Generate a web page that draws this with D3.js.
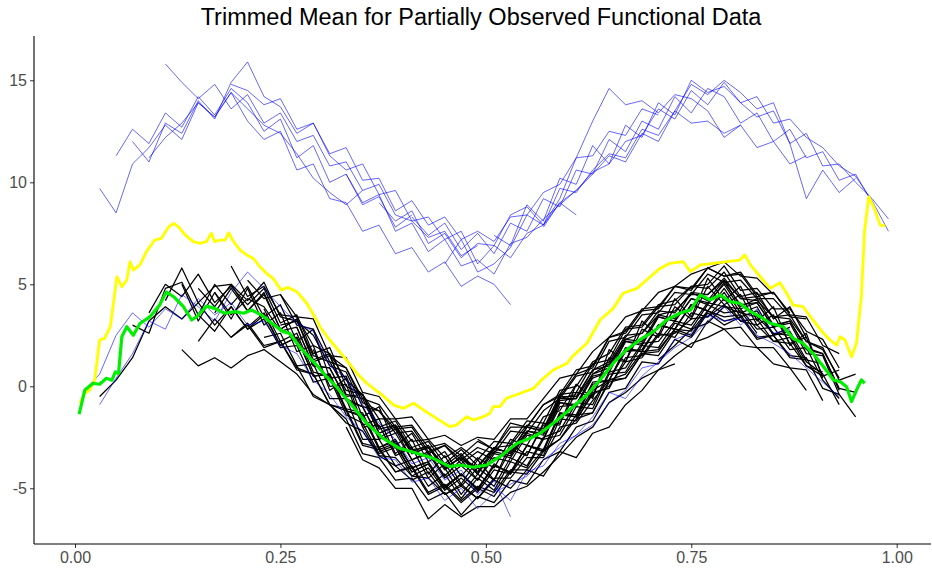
<!DOCTYPE html>
<html>
<head>
<meta charset="utf-8">
<script src="https://cdn.jsdelivr.net/npm/d3@7"></script>
<style>
  body { margin: 0; background: #fff; }
  svg { display: block; font-family: "Liberation Sans", Arial, sans-serif; }
</style>
</head>
<body>
<main></main>
<script>
// common observation grid for the sample curves
const grid = [0.01,0.03,0.05,0.07,0.09,0.11,0.13,0.15,0.17,0.19,0.21,0.23,0.25,0.27,0.29,0.31,0.33,0.35,0.37,0.39,
  0.41,0.43,0.45,0.47,0.49,0.51,0.53,0.55,0.57,0.59,0.61,0.63,0.65,0.67,0.69,0.71,0.73,0.75,0.77,0.79,
  0.81,0.83,0.85,0.87,0.89,0.91,0.93,0.95,0.97,0.99];

// black curves: first grid index + observed values
const blackStart = [1,3,6,4,7,8,9,10,11,12,13,14,15,8,17,19,5,22,24,30,35,10,16,12,6,7,9,11,13,18,7,27];
const blackY = [
  [-0.5,0.3,1.4,3.2,3.9,3.3,4.1,3.0,3.9,2.8,3.5,2.0,2.4,0.5,0.6,-1.1,-1.3,-3.0,-2.6,-4.0,-3.7],
  [3.0,2.6,4.8,5.1,3.5,5.0,4.0,4.9,3.4,4.0,2.2,2.8,0.4,0.5,-1.5,-1.0,-2.9,-2.3,-3.7,-3.2,-4.4,-3.5,-4.0,-2.6,-2.9,-1.5,-1.2,0.1],
  [1.8,1.0,1.4,0.9,1.5,1.8,1.2,0.6,-0.4,-0.9,-1.8,-2.2,-3.4,-3.9,-4.6,-4.2,-5.3,-4.8,-5.5,-4.6,-5.0,-4.1,-4.4,-3.2,-3.5,-2.3,-2.0,-0.9,-0.2,0.8,1.1],
  [3.6,5.0,4.4,5.5,4.1,4.9,4.0,4.8,3.1,3.5,1.6,1.9,0.0,-0.4,-2.0,-1.7,-3.0,-2.7,-3.8,-3.1,-3.9,-3.0,-2.9,-1.9,-2.1,-0.4,-0.3,1.1,1.3,2.8,2.9,3.9,4.0,4.9,4.8,5.6,4.4,4.6,3.3,3.9,2.4],
  [3.5,2.7,3.9,2.8,3.3,1.9,2.0,0.2,0.4,-1.4,-1.8,-3.3,-3.0,-4.4,-4.0,-5.1,-4.5,-5.2,-4.1,-4.3,-3.2,-3.4,-1.6,-1.7,-0.3,-0.1,1.4,1.5,2.6,2.4,3.6,3.4,4.3,3.2,3.3,2.2,2.4,1.0,0.7],
  [4.6,3.5,4.3,3.9,2.7,2.9,1.0,0.9,-0.6,-1.0,-2.5,-2.1,-3.6,-3.2,-4.4,-3.6,-4.6,-3.3,-3.5,-2.3,-2.6,-0.8,-0.9,0.6,0.9,2.3,2.2,3.5,3.3,4.6,4.2,5.2,3.9,4.3,3.0,3.2,1.9,1.6,-0.1,-0.3],
  [2.4,3.0,1.9,2.2,0.8,0.6,-0.9,-1.2,-2.9,-3.1,-4.2,-4.0,-5.3,-4.9,-5.7,-5.0,-5.4,-4.2,-4.3,-3.2,-2.6,-1.6,-1.3,0.2,0.4,1.6,1.5,2.7,2.4,3.6,3.0,3.4],
  [5.2,4.3,4.5,3.0,2.8,1.2,0.9,-0.6,-0.9,-2.0,-1.9,-3.0,-2.8,-3.4,-2.7,-3.1,-2.0,-2.0,-0.9,-0.5,0.6,0.9,2.4,2.6,3.7,3.8,4.9,4.7,5.8,5.4,5.5,4.4,4.6,3.5,3.4,2.0,1.6],
  [3.8,2.2,2.6,0.7,0.5,-1.2,-1.5,-3.0,-2.7,-4.0,-3.7,-4.9,-4.3,-5.0,-3.9,-4.2,-2.9,-3.1,-1.3,-1.4,0.2,0.3,1.9,1.7,3.0,2.8,4.0,3.7,4.8,3.6,3.9,2.5,2.9],
  [3.0,3.2,1.5,1.2,-0.2,-0.4,-2.1,-1.9,-3.1,-3.0,-3.9,-3.3,-4.2,-3.1,-3.2,-2.0,-2.2,-0.5,-0.5,0.8,1.2,2.5,2.6,3.7,3.6,4.6,4.5,5.3,4.3,4.4,3.4,3.5,2.2,1.9,0.3,0.6],
  [1.0,-0.5,-0.9,-1.6,-3.3,-3.5,-4.6,-4.5,-5.6,-5.2,-6.3,-5.4,-5.7,-4.6,-4.8,-3.6,-3.2,-2.0,-1.7,-0.3,-0.1,1.2,1.1,2.3,1.9,3.2,2.8,2.9,1.9,1.9,0.9,0.8,-0.7],
  [1.8,0.0,0.1,-2.0,-1.9,-3.4,-3.0,-4.5,-3.8,-4.9,-4.0,-4.6,-3.1,-3.4,-1.9,-1.8,-0.3,-0.5,1.4,1.2,2.8,2.4,3.9,3.3,4.9,4.0,4.5,3.0,3.5,2.1,2.4,0.5,0.8],
  [1.5,0.9,-0.8,-1.2,-2.1,-2.0,-3.2,-2.9,-3.6,-3.0,-3.3,-2.2,-2.3,-1.2,-0.6,0.5,0.7,2.2,2.4,3.5,3.6,4.6,4.5,5.5,5.1,5.2,4.3,4.3,3.4,3.3],
  [3.6,4.8,3.7,4.5,2.8,3.3,1.2,1.5,-0.4,-0.6,-2.3,-2.0,-3.3,-3.0,-4.1,-3.4,-4.3,-3.2,-3.4,-2.2,-2.4,-0.7,-0.6,0.8,1.0,2.4],
  [-2.0,-3.4,-3.5,-4.4,-4.5,-5.3,-4.9,-5.5,-4.5,-4.5,-3.5,-3.5,-2.0,-1.8,-0.7,0.3,0.6,1.7,1.8,2.8,2.7,3.7,3.4,3.5,2.4,2.5,1.5,1.4,-0.1,-0.4,-1.5],
  [-2.0,-3.3,-3.0,-4.0,-3.5,-4.3,-3.0,-3.3,-2.2,-2.3,-0.6,-0.6,0.6,1.1,2.3,2.6,3.5,3.7,4.5,4.5,5.2,4.3,4.2,3.4,3.3,2.2,1.8,0.4],
  [4.2,5.8,4.1,4.9,5.0,4.2,5.1,3.4,3.2,2.5,1.0,0.7,-1.0,-1.2,-2.3,-2.2,-3.3,-2.9,-3.8,-3.2,-3.6],
  [-4.0,-5.3,-4.3,-4.9,-3.5,-3.9,-2.5,-2.2,-0.8,-0.9,0.7,0.9,2.1,2.2,3.2,3.0,4.1,3.9,3.8,2.8,2.9,1.8,1.9,0.3,-0.6],
  [-2.6,-3.1,-1.8,-2.0,-0.9,-0.4,0.8,1.0,2.4,2.7,3.8,3.9,4.9,4.8,5.8,5.4,5.6,4.5,4.6,3.6],
  [-1.6,-0.4,0.0,1.2,1.4,2.5,2.6,3.3,3.4,4.0,3.2,3.0,2.2,2.1,1.0,0.5],
  [1.3,2.0,2.8,3.1,3.9,3.6,3.4,2.6,2.5,1.2,0.6,-0.9],
  [2.9,3.6,2.0,2.4,0.5,0.6,-1.2,-1.4,-3.1,-2.8,-4.2,-3.8,-5.0,-4.3,-5.1,-3.9,-4.2,-2.9,-3.2,-1.4,-1.5,-0.2,0.3,1.8,1.7,3.0,2.8,4.0,3.7],
  [-2.0,-3.6,-4.0,-5.0,-5.0,-6.5,-5.8,-6.4,-5.9,-5.9,-5.2,-4.9,-4.2,-3.4,-2.5,-2.0,-0.8,-0.3,0.4,0.8,1.5,2.1,2.4,2.8,2.0,1.9,1.1,0.9,-0.2],
  [4.5,3.4,3.3,1.5,1.4,-0.3,-0.5,-1.6,-1.5,-2.6,-2.4,-2.9,-2.5,-2.6,-1.6,-1.6,-0.6,0.4,0.6,1.7,2.4,3.4,3.7,4.6,4.9,5.5,5.8,6.1,5.4,5.3,4.5],
  [5.0,3.2,4.6,3.3,4.8,3.0,3.6,1.7,2.0,-0.2,0.4,-1.9,-1.6,-3.3,-2.6,-4.3,-3.4,-4.8,-3.6,-4.6,-2.8,-3.4,-1.8,-1.9,0.1,-0.6,1.8,1.2,3.2,2.5,4.3,3.4,5.3,4.2,4.9,3.2,3.9,2.0,2.6,0.4],
  [2.2,3.3,2.4,3.1,2.0,2.2,0.9,0.6,-0.9,-1.1,-2.8,-3.0,-4.2,-3.9,-5.2,-4.8,-5.6,-4.9,-5.2,-4.1,-4.1,-3.1,-2.6,-1.4,-1.3,0.3,0.4,1.6,1.7,2.8,2.5,3.7,3.2,3.4,2.3,2.5,1.4,1.3],
  [5.9,4.4,4.9,3.5,3.4,2.0,1.6,0.3,-0.4,-1.6,-1.6,-2.7,-2.6,-3.5,-3.0,-3.6,-2.7,-2.8,-1.7,-1.8,-0.2,0.0,1.2,1.6,2.9,3.0,4.0,4.2,4.9,5.0,5.9,4.7,4.8,3.8,3.8,2.7,2.3,0.9],
  [2.4,2.6,1.0,1.1,-0.6,-0.6,-2.6,-2.6,-3.9,-3.6,-4.9,-4.3,-5.5,-4.5,-5.1,-3.7,-4.0,-2.6,-2.4,-1.0,-1.1,0.6,0.7,2.0,1.9,3.1,2.8,4.0,3.6,3.7,2.6],
  [2.9,1.0,0.9,-0.7,-1.0,-2.6,-2.3,-3.6,-3.3,-4.5,-3.9,-4.6,-3.5,-3.7,-2.4,-2.6,-0.8,-1.0,0.5,0.7,2.2,2.1,3.4,3.2,4.3,4.1,5.0,3.8,4.1,2.9,3.1,1.6,1.5,-0.4],
  [-3.2,-2.9,-4.2,-3.8,-5.0,-4.3,-5.1,-3.8,-4.3,-2.9,-3.2,-1.3,-1.5,0.1,0.3,1.7,1.8,3.0,2.8,4.0,3.7,4.6,3.4,3.7,2.5,2.7,1.3,1.1],
  [4.8,3.9,5.0,3.7,4.6,2.8,3.3,1.3,1.6,-0.5,-0.4,-2.3,-1.9,-3.2,-2.9,-4.0,-3.5,-4.0,-3.0,-3.3,-2.0,-2.2,-0.6,-0.4],
  [-2.4,-2.6,-1.0,-0.9,0.4,0.7,2.2,2.0,3.4,3.2,4.3,4.0,5.1,4.0,4.1,2.9,3.2,1.8,1.6,-0.2]
];

// blue curves inside the main band
const blueLowStart = [0,1,25];
const blueLowY = [
  [-0.3,0.6,2.5,3.6,2.9,3.8,3.3,4.3,3.5,4.1,3.0,3.2,2.0,1.6,0.3,-0.4,-1.5,-2.2,-3.5,-3.6,-4.7,-4.5,-5.6,-5.0,-6.0,-5.2,-4.8,-4.4,-3.6,-3.0,-2.4,-1.9,-0.8,-0.2,0.9,1.1,2.3,2.6,3.5,3.2,3.3,2.5,2.1,1.6,0.9,0.2,-0.5],
  [-0.9,0.4,1.6,3.2,2.8,4.5,3.9,3.2,4.6,5.6,4.8,3.9,3.1,2.7,1.0,0.4,-0.9,-1.8,-2.6,-3.8,-3.5,-4.6,-4.1,-5.3,-4.6,-6.4],
  [-4.9,-5.6,-4.2,-3.9,-2.8,-2.4,-1.5,-0.3,-0.6,0.5,1.2,1.9,2.4,3.2,3.9,3.0,3.8,2.6,2.8]
];

// shifted (outlying) blue curves
const blueHighStart = [1,2,5,3,4,9,16,20,22,18,25,28];
const blueHighY = [
  [9.7,8.5,10.9,11.7,12.8,12.1,13.9,13.2,14.4,13.0,12.1,12.5,10.6,10.9,9.2,9.0,7.6,7.9,6.5,6.8,5.6,6.1,4.9,5.4,5.0,4.0],
  [11.3,12.6,11.9,13.4,12.7,14.2,13.3,14.6,13.9,12.5,13.1,11.2,11.8,10.0,10.4,8.9,9.3,7.8,8.4],
  [15.8,14.9,14.1,14.8,13.6,14.3,12.9,13.4,12.0,12.3,10.8,11.0,9.6,9.9,8.4,8.1,7.3,7.6,6.4,6.9],
  [12.0,11.0,12.9,12.4,14.0,13.1,14.9,15.9,14.2,13.7,12.4,12.9,11.3,10.6,10.9,9.4,9.6,8.1,8.3,7.2,7.6,6.0,6.9,6.3,7.5,7.9,9.0,8.4],
  [11.2,12.2,12.9,13.9,13.2,14.4,13.6,12.8,12.4,11.4,10.2,9.5,8.9,9.6],
  [14.8,14.5,13.8,14.1,12.6,12.9,11.4,11.7,10.1,10.2,8.6,9.1,7.9,8.3,7.2,7.6,7.1,8.3,8.4,9.5,9.9,11.2,11.3,12.5,12.3,13.6,13.3],
  [10.4,9.0,9.4,7.6,8.0,6.6,7.2,5.9,6.2,5.5,7.0,7.3,8.2,8.9,9.6,10.5,10.9,12.0,12.3,13.6,13.1,14.5,13.8,14.9,13.9,13.2,13.5,11.9,12.4,10.8,10.9,10.0,9.2,8.2],
  [8.3,7.4,8.0,6.7,7.5,6.5,8.0,7.6,9.2,8.8,10.6,10.4,12.1,11.5,13.0,12.6,14.2,13.4,14.6,14.2,12.9,13.4,12.0,12.6,11.2,11.5,10.1,10.4,9.0],
  [6.0,7.2,5.6,6.0,6.8,8.4,7.9,9.7,9.5,10.6,11.4,11.2,12.6,12.3,13.5,12.9,13.0,12.4,12.8,11.7,12.0,10.9,11.3],
  [9.0,8.1,8.6,7.0,7.5,6.3,7.0,6.9,8.4,8.8,7.9,9.2,11.2,13.0,14.6,13.8,14.0,13.4,14.3,14.1,13.5,12.2,12.8],
  [7.4,6.9,8.9,8.1,10.2,9.9,11.8,10.9,12.8,12.2,13.9,13.3,15.0,14.4,14.7,13.9,14.2,12.9,13.1,12.2,11.7,10.8,10.3,9.1,7.6],
  [7.8,9.0,9.6,10.4,11.3,11.0,12.4,12.0,13.5,14.8,14.3,15.0,14.4,13.6,13.9,11.9,9.2,10.6,9.5,10.2]
];

// mean of all curves (yellow)
const meanX = [.006,.012,.018,.024,.030,.036,.043,.051,.057,.063,.067,.071,.079,.087,.097,.105,.114,.120,.126,.134,
  .144,.152,.160,.166,.170,.176,.183,.187,.193,.201,.209,.217,.225,.233,.241,.251,.259,.270,.282,.294,
  .298,.310,.327,.343,.355,.371,.388,.400,.412,.424,.440,.456,.464,.477,.485,.497,.505,.509,.517,.525,
  .542,.558,.570,.582,.599,.606,.623,.639,.655,.667,.684,.700,.712,.724,.740,.749,.761,.777,.793,.809,
  .815,.822,.834,.846,.858,.866,.874,.886,.898,.911,.919,.927,.931,.937,.945,.951,.957,.961,.966,.972,.980,.986];
const meanY = [-0.83,-0.34,-0.18,0.31,2.27,2.35,2.92,5.37,4.88,5.2,6.11,5.7,5.95,6.6,7.17,7.25,7.82,7.99,7.82,7.42,
  7.09,7.01,7.09,7.5,7.09,7.17,7.17,7.53,7.09,6.68,6.44,6.27,5.86,5.54,5.29,4.72,4.85,4.64,4.07,3.25,
  2.92,2.27,1.45,0.64,0.15,-0.34,-0.92,-1.08,-0.83,-1.16,-1.57,-1.98,-1.9,-1.49,-1.65,-1.49,-1.32,-1.0,-1.0,-0.59,
  -0.34,-0.1,0.39,0.8,1.13,1.49,2.11,3.25,3.82,4.56,4.8,5.37,5.78,6.03,6.11,5.62,5.95,6.03,6.11,6.19,
  6.44,5.95,5.37,4.8,5.08,4.56,3.98,3.9,3.25,2.6,2.27,2.02,2.43,2.27,1.45,2.11,4.39,7.66,9.29,8.8,7.9,7.86];

// trimmed mean (green)
const trimX = [.005,.012,.022,.030,.038,.045,.049,.053,.057,.063,.071,.079,.091,.103,.111,.120,.132,.142,.148,.160,
  .170,.182,.195,.205,.215,.227,.237,.253,.261,.274,.294,.306,.318,.335,.355,.375,.395,.416,.436,.456,
  .468,.485,.501,.517,.538,.554,.566,.582,.599,.623,.639,.655,.671,.687,.704,.720,.736,.749,.761,.773,
  .785,.797,.809,.822,.834,.846,.862,.874,.886,.898,.911,.923,.931,.939,.945,.953,.957,.961];
const trimY = [-1.37,-0.18,0.15,0.1,0.39,0.3,0.7,0.63,2.43,2.92,2.5,3.08,3.4,3.98,4.63,4.39,3.9,3.25,3.41,3.93,
  3.82,3.58,3.66,3.58,3.74,3.49,3.17,2.68,2.6,1.9,1.04,0.47,-0.02,-0.83,-1.81,-2.55,-3.04,-3.28,-3.53,-3.94,
  -3.86,-3.97,-3.86,-3.45,-2.79,-2.55,-2.3,-1.81,-1.25,-0.43,0.31,1.13,1.78,2.27,2.68,3.25,3.58,3.74,4.48,4.23,
  4.48,4.15,4.07,3.66,3.41,3.09,2.92,2.35,2.11,1.62,0.96,0.31,0.23,-0.02,-0.75,-0.02,0.31,0.15];

const xTicks = [0, 0.25, 0.5, 0.75, 1];
const yTicks = [-5, 0, 5, 10, 15];
const title = 'Trimmed Mean for Partially Observed Functional Data';

const W = 932, H = 577;
const panel = { left: 34, right: 931, top: 36, bottom: 544 };

const svg = d3.select('main').append('svg').attr('width', W).attr('height', H);

const x = d3.scaleLinear().domain([0, 1]).range([75, 896.7]);
const y = d3.scaleLinear().domain([-5, 15]).range([488.3, 80.3]);

const line = d3.line().x(d => x(d[0])).y(d => y(d[1]));
const toPts = (start, ys) => ys.map((v, i) => [grid[start + i], v]);

// sample curves
svg.append('g').selectAll('path')
  .data(blueHighY.map((ys, k) => toPts(blueHighStart[k], ys)))
  .enter().append('path')
  .attr('d', line).attr('fill', 'none')
  .attr('stroke', '#0000ff').attr('stroke-opacity', 0.75).attr('stroke-width', 0.8);

svg.append('g').selectAll('path')
  .data(blackY.map((ys, k) => toPts(blackStart[k], ys)))
  .enter().append('path')
  .attr('d', line).attr('fill', 'none')
  .attr('stroke', '#000').attr('stroke-width', 1.25).attr('stroke-linejoin', 'round');

svg.append('g').selectAll('path')
  .data(blueLowY.map((ys, k) => toPts(blueLowStart[k], ys)))
  .enter().append('path')
  .attr('d', line).attr('fill', 'none')
  .attr('stroke', '#0000ff').attr('stroke-opacity', 0.75).attr('stroke-width', 0.8);

// mean and trimmed mean
svg.append('path')
  .datum(meanX.map((v, i) => [v, meanY[i]]))
  .attr('d', line).attr('fill', 'none')
  .attr('stroke', '#ffff00').attr('stroke-width', 2.8).attr('stroke-linejoin', 'round');

svg.append('path')
  .datum(trimX.map((v, i) => [v, trimY[i]]))
  .attr('d', line).attr('fill', 'none')
  .attr('stroke', '#00ee00').attr('stroke-width', 3.2).attr('stroke-linejoin', 'round');

// axes
const xAxis = svg.append('g')
  .attr('transform', `translate(0,${panel.bottom})`)
  .call(d3.axisBottom(x).tickValues(xTicks).tickFormat(d3.format('.2f')).tickSize(4).tickPadding(4));
const yAxis = svg.append('g')
  .attr('transform', `translate(${panel.left},0)`)
  .call(d3.axisLeft(y).tickValues(yTicks).tickFormat(d => String(d)).tickSize(4).tickPadding(3));

[xAxis, yAxis].forEach(g => {
  g.select('.domain').remove();
  g.selectAll('.tick line').attr('stroke', '#333').attr('stroke-width', 1);
  g.selectAll('.tick text').attr('fill', '#4d4d4d').style('font-size', '16px')
    .style('font-family', '"Liberation Sans", Arial, sans-serif');
});

svg.append('line')
  .attr('x1', panel.left).attr('x2', panel.right)
  .attr('y1', panel.bottom).attr('y2', panel.bottom)
  .attr('stroke', '#000').attr('stroke-width', 1.1);
svg.append('line')
  .attr('x1', panel.left).attr('x2', panel.left)
  .attr('y1', panel.top).attr('y2', panel.bottom)
  .attr('stroke', '#000').attr('stroke-width', 1.1);

svg.append('text')
  .attr('x', 481).attr('y', 25)
  .attr('text-anchor', 'middle')
  .style('font-size', '23.5px').attr('fill', '#000')
  .text(title);
</script>
</body>
</html>
